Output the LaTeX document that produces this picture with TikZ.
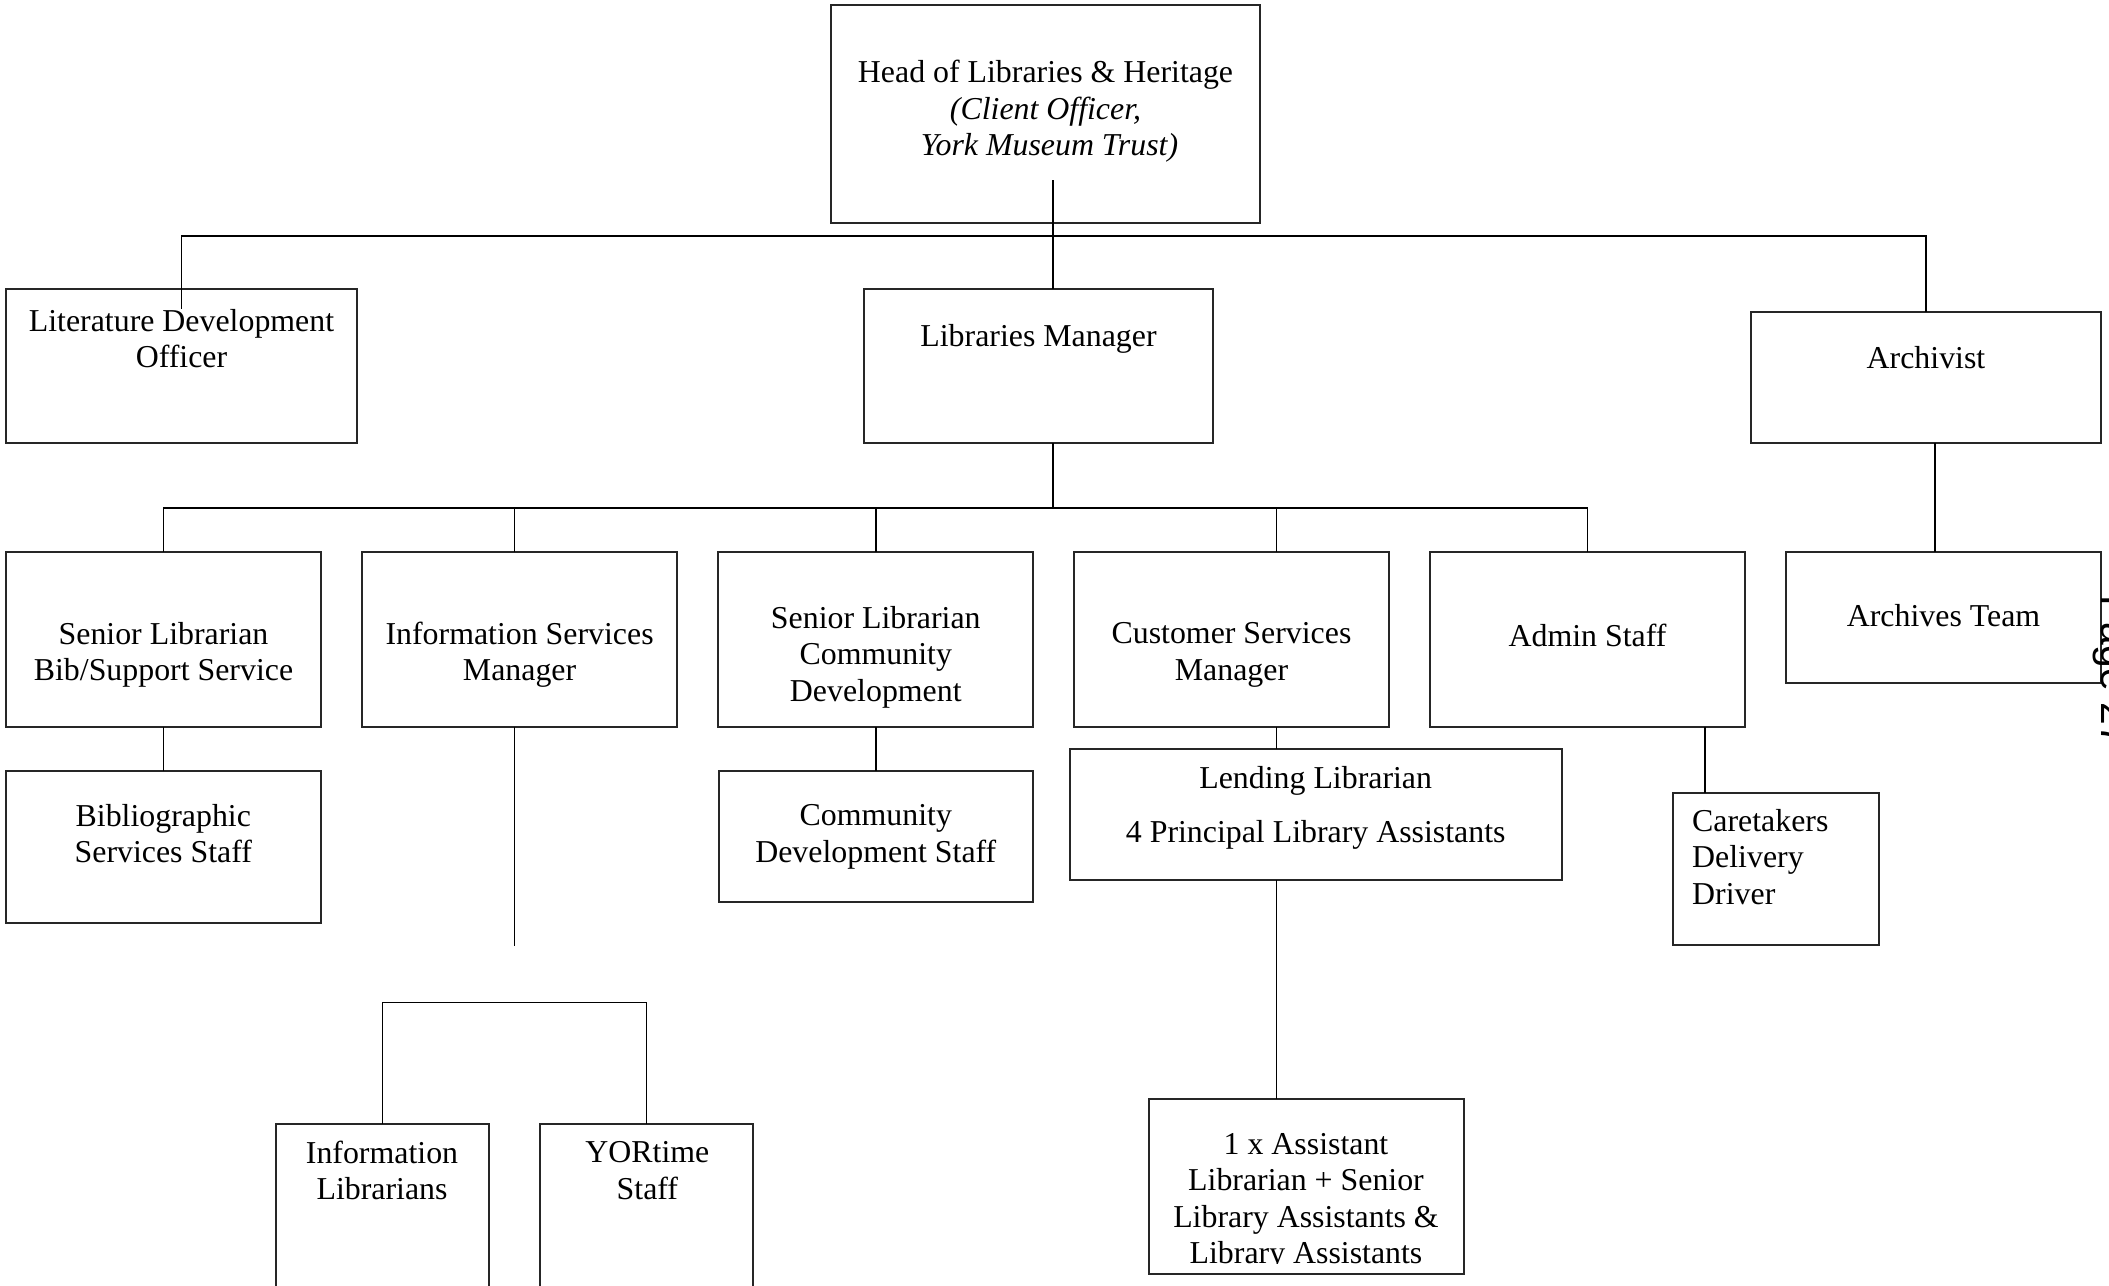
\documentclass[tikz,border=0pt]{standalone}
\usepackage{fontspec}
\setmainfont{Liberation Serif}
\newfontfamily\pagefont{Liberation Sans}
\begin{document}
\begin{tikzpicture}[x=0.01cm, y=-0.01cm,
  box/.style 2 args={draw=black!85, line width=0.55pt, minimum width=#1, minimum height=#2, inner sep=0pt, outer sep=0pt},
  lbl/.style={font=\fontsize{9.06}{10.38}\selectfont, align=center, inner sep=0pt, execute at begin node=\strut, execute at end node=\strut},
  conn/.style={draw=black, line width=0.45pt}]
\useasboundingbox (0,0) rectangle (2109,1286);

% boxes
\node[box={4.29cm}{2.18cm}] (head) at (1045.5,114) {};
\node[box={3.50cm}{1.54cm}] (lit) at (181.5,366) {};
\node[box={3.49cm}{1.54cm}] (libman) at (1038.5,366) {};
\node[box={3.50cm}{1.31cm}] (arch) at (1926,377.2) {};
\node[box={3.145cm}{1.313cm}] (archteam) at (1943.75,617.65) {};
\node[box={3.15cm}{1.75cm}] (slbib) at (163.5,639.5) {};
\node[box={3.15cm}{1.75cm}] (info) at (519.6,639.5) {};
\node[box={3.15cm}{1.75cm}] (slcomm) at (875.8,639.5) {};
\node[box={3.15cm}{1.75cm}] (cust) at (1231.5,639.5) {};
\node[box={3.15cm}{1.75cm}] (admin) at (1587.5,639.5) {};
\node[box={3.145cm}{1.526cm}] (bib) at (163.3,847) {};
\node[box={3.143cm}{1.31cm}] (comm) at (875.8,836.2) {};
\node[box={4.915cm}{1.313cm}] (lend) at (1315.75,814.35) {};
\node[box={2.063cm}{1.523cm}] (care) at (1775.85,868.85) {};
\node[box={2.12cm}{2.06cm}] (infolib) at (382.5,1227) {};
\node[box={2.126cm}{2.06cm}] (yor) at (646.3,1227) {};
\node[box={3.15cm}{1.75cm}] (asst) at (1306.5,1186.5) {};

% texts
\node[lbl] (t_head) at (1045.5,113.5) {Head of Libraries \& Heritage\\ \textit{(Client Officer,}\\ \hspace*{0.25em}\textit{York Museum Trust)}};
\node[lbl] (t_lit) at (181.5,344) {Literature Development\\Officer};
\node[lbl] (t_libman) at (1038.5,339) {Libraries Manager};
\node[lbl] (t_arch) at (1926,361) {Archivist};
\node[lbl] (t_archteam) at (1943.5,619) {Archives Team};
\node[lbl] (t_slbib) at (163.5,657) {Senior Librarian\\Bib/Support Service};
\node[lbl] (t_info) at (519.6,657) {Information Services\\Manager};
\node[lbl] (t_slcomm) at (875.8,659) {Senior Librarian\\Community\\Development};
\node[lbl] (t_cust) at (1231.5,657) {Customer Services\\Manager};
\node[lbl] (t_admin) at (1587.5,639) {Admin Staff};
\node[lbl] (t_bib) at (163.3,839) {Bibliographic\\Services Staff};
\node[lbl] (t_comm) at (875.8,839) {Community\\Development Staff};
\node[lbl] (t_lend) at (1315.7,810) {Lending Librarian\\[0.172cm]4 Principal Library Assistants};
\node[lbl, align=left, anchor=north west] (t_care) at (1691.5,808.5) {Caretakers\\Delivery\\Driver};
\node[lbl] (t_infolib) at (382,1176) {Information\\Librarians};
\node[lbl] (t_yor) at (647.4,1176) {YORtime\\Staff};
\begin{scope}
\clip (asst.north west) rectangle ([yshift=0.11cm]asst.south east);
\node[lbl] (t_asst) at (1306,1204) {1 x Assistant\\Librarian + Senior\\Library Assistants \&\\Library Assistants};
\end{scope}

% page number at right edge
\node[font=\pagefont\fontsize{11.6}{13}\selectfont, rotate=-90, anchor=base west, inner sep=0pt] (pg) at (2101,595) {Page 27};

% connectors
\coordinate (hubA) at (1053,236);
\coordinate (hubB) at (1053,508);
\coordinate (csx) at (1276.6,508);
\coordinate (infox) at (514.5,508);
\coordinate (infoend) at (514.5,945.7);
\coordinate (bar) at (514.5,1002.7);
\coordinate (admx) at (1704.7,792.7);
\coordinate (arx) at (1935,552);

\draw[conn] ([yshift=0.43cm]head.south -| hubA) -- (hubA |- libman.north);
\draw[conn] ([yshift=-0.2cm]lit.north) -- (lit.north |- hubA) -- (arch.north |- hubA) -- (arch.north);
\draw[conn] (hubB |- libman.south) -- (hubB);
\draw[conn] (slbib.north) -- (slbib.north |- hubB) -- (admin.north |- hubB) -- (admin.north);
\draw[conn] (infox |- info.north) -- (infox);
\draw[conn] (slcomm.north) -- (slcomm.north |- hubB);
\draw[conn] (csx |- cust.north) -- (csx);
\draw[conn] (slbib.south) -- (slbib.south |- bib.north);
\draw[conn] (slcomm.south) -- (slcomm.south |- comm.north);
\draw[conn] (csx |- cust.south) -- (csx |- lend.north);
\draw[conn] (csx |- lend.south) -- (csx |- asst.north);
\draw[conn] (infox |- info.south) -- (infoend);
\draw[conn] (infolib.north) -- (infolib.north |- bar) -- (yor.north |- bar) -- (yor.north);
\draw[conn] (admx |- admin.south) -- (admx |- care.north);
\draw[conn] (arx |- arch.south) -- (arx |- archteam.north);
\end{tikzpicture}
\end{document}
